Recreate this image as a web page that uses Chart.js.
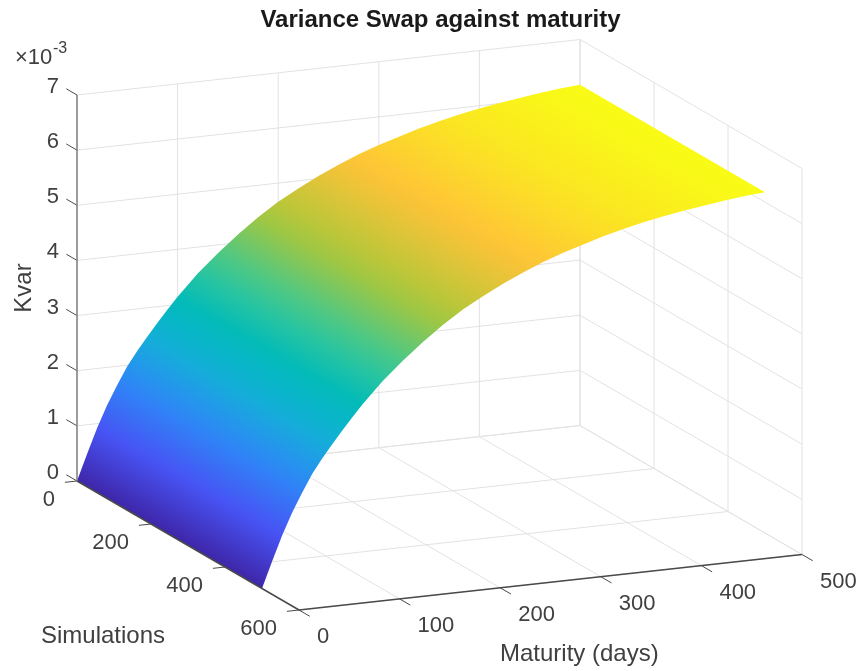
<!DOCTYPE html>
<html>
<head>
<meta charset="utf-8">
<title>Variance Swap against maturity</title>
<script src="https://cdn.jsdelivr.net/npm/chart.js@4"></script>
<style>
  html, body { margin: 0; padding: 0; background: #fff; }
  canvas { display: block; }
</style>
</head>
<body>
<canvas id="grafica" width="861" height="671"></canvas>
<script>
// Values
const maturityDays = [0, 10, 20, 30, 40, 50, 60, 70, 80, 90, 100, 120, 140, 160, 180, 200, 220, 240, 260, 280, 300, 320, 340, 360, 380, 400, 420, 440, 460, 480, 500];
const kvarValues = [0, 0.47, 0.92, 1.32, 1.66, 1.98, 2.24, 2.48, 2.71, 2.93, 3.14, 3.52, 3.85, 4.15, 4.42, 4.66, 4.86, 5.05, 5.21, 5.36, 5.49, 5.6, 5.71, 5.8, 5.88, 5.95, 6.01, 6.06, 6.11, 6.15, 6.18];
const simulationRange = [0, 500];

const maturityTicks = [0, 100, 200, 300, 400, 500];
const simulationTicks = [0, 200, 400, 600];
const kvarTicks = [0, 1, 2, 3, 4, 5, 6, 7];

// parula colormap: position, r, g, b
const parula = [
  [0, 62, 38, 168],
  [0.143, 72, 82, 244],
  [0.286, 46, 135, 247],
  [0.41, 18, 177, 214],
  [0.5, 0, 186, 186],
  [0.6, 55, 200, 151],
  [0.73, 171, 199, 57],
  [0.857, 254, 195, 56],
  [1, 249, 251, 21],
];

// Layout of the chart inside the canvas
const TITLE_HEIGHT = 34.8;
const LEFT_PAD = 20;

// Box view: where (days, sims, kvar) lands in the plot
const ORIGIN = [77, 481];
const PER_DAY = [503 / 500, -55.5 / 500];
const PER_SIM = [222 / 600, 129 / 600];
const PER_KVAR = -386 / 7;

function proyectar(t, s, z) {
  return {
    x: ORIGIN[0] + t * PER_DAY[0] + s * PER_SIM[0],
    y: ORIGIN[1] + t * PER_DAY[1] + s * PER_SIM[1] + z * PER_KVAR,
  };
}

const T_MAX = 500, S_MAX = 600, Z_MAX = 7;
const datasets = [];

function linea(a, b, color, width, order) {
  datasets.push({
    data: [a, b],
    showLine: true,
    borderColor: color,
    borderWidth: width,
    pointRadius: 0,
    clip: false,
    order: order,
  });
}

// Grid on the floor and the two walls
const GRID = "#e2e2e4";
maturityTicks.forEach((t) => {
  linea(proyectar(t, 0, 0), proyectar(t, S_MAX, 0), GRID, 1, 2);
  linea(proyectar(t, 0, 0), proyectar(t, 0, Z_MAX), GRID, 1, 2);
});
simulationTicks.forEach((s) => {
  linea(proyectar(0, s, 0), proyectar(T_MAX, s, 0), GRID, 1, 2);
  linea(proyectar(T_MAX, s, 0), proyectar(T_MAX, s, Z_MAX), GRID, 1, 2);
});
kvarTicks.forEach((z) => {
  linea(proyectar(0, 0, z), proyectar(T_MAX, 0, z), GRID, 1, 2);
  linea(proyectar(T_MAX, 0, z), proyectar(T_MAX, S_MAX, z), GRID, 1, 2);
});

// Surface outline: one edge forward, the other one back
const bordeA = maturityDays.map((t, i) => proyectar(t, simulationRange[0], kvarValues[i]));
const bordeB = maturityDays.map((t, i) => proyectar(t, simulationRange[1], kvarValues[i]));
datasets.push({
  surface: true,
  data: bordeA.concat(bordeB.slice().reverse()),
  showLine: false,
  pointRadius: 0,
  clip: false,
  order: 1,
});

// Axis lines and ticks
const AXIS = "#4a4a4a";
linea(proyectar(0, 0, 0), proyectar(0, 0, Z_MAX), "#808080", 1.5, 0);
linea(proyectar(0, 0, 0), proyectar(0, S_MAX, 0), AXIS, 1.5, 0);
linea(proyectar(0, S_MAX, 0), proyectar(T_MAX, S_MAX, 0), AXIS, 1.5, 0);
kvarTicks.forEach((z) => linea(proyectar(0, 0, z), proyectar(0, -29, z), AXIS, 1, 0));
simulationTicks.forEach((s) => linea(proyectar(0, s, 0), proyectar(-12, s, 0), AXIS, 1, 0));
maturityTicks.forEach((t) => linea(proyectar(t, S_MAX, 0), proyectar(t, S_MAX + 29, 0), AXIS, 1, 0));

function colorDe(valor) {
  for (let i = 1; i < parula.length; i++) {
    if (valor <= parula[i][0]) {
      const a = parula[i - 1], b = parula[i];
      const f = (valor - a[0]) / (b[0] - a[0]);
      return `rgb(${a[1] + f * (b[1] - a[1])},${a[2] + f * (b[2] - a[2])},${a[3] + f * (b[3] - a[3])})`;
    }
  }
  return "rgb(249,251,21)";
}

// Fills the surface from the points the scales already placed
const superficie = {
  id: "superficie",
  afterDatasetDraw(chart, args) {
    const ds = chart.data.datasets[args.index];
    if (!ds.surface) return;
    const pts = args.meta.data;
    const n = maturityDays.length;
    const ctx = chart.ctx;

    // Colour only changes across the simulations direction
    const p0 = pts[0];
    const sx = pts[2 * n - 1].x - p0.x, sy = pts[2 * n - 1].y - p0.y;
    const len = Math.hypot(sx, sy);
    const nx = -sy / len, ny = sx / len;
    const dist = (p) => (p.x - p0.x) * nx + (p.y - p0.y) * ny;
    const total = dist(pts[n - 1]);
    const grad = ctx.createLinearGradient(p0.x, p0.y, p0.x + nx * total, p0.y + ny * total);
    const zMax = Math.max(...kvarValues);
    maturityDays.forEach((t, i) => {
      grad.addColorStop(Math.min(1, dist(pts[i]) / total), colorDe(kvarValues[i] / zMax));
    });

    ctx.save();
    ctx.beginPath();
    pts.forEach((p, i) => (i ? ctx.lineTo(p.x, p.y) : ctx.moveTo(p.x, p.y)));
    ctx.closePath();
    ctx.fillStyle = grad;
    ctx.fill();
    ctx.restore();
  },
};

// Tick labels and axis names, placed through the same scales
const textos = {
  id: "textos",
  afterDraw(chart) {
    const ctx = chart.ctx;
    const px = (p) => ({ x: chart.scales.x.getPixelForValue(p.x), y: chart.scales.y.getPixelForValue(p.y) });
    const escribir = (txt, x, y, align, size) => {
      ctx.font = `${size}px "Liberation Sans"`;
      ctx.textAlign = align;
      ctx.fillText(txt, x, y);
    };

    ctx.save();
    ctx.fillStyle = "#404040";
    ctx.textBaseline = "middle";

    kvarTicks.forEach((z) => {
      const p = px(proyectar(0, 0, z));
      escribir(String(z), p.x - 18, p.y - 8, "right", 22);
    });
    simulationTicks.forEach((s) => {
      const p = px(proyectar(0, s, 0));
      escribir(String(s), p.x - 22, p.y + 19, "right", 22);
    });
    maturityTicks.forEach((t) => {
      const p = px(proyectar(t, S_MAX, 0));
      escribir(String(t), p.x + 18, p.y + 27, "left", 22);
    });

    escribir("×10", 15, 58, "left", 22);
    escribir("-3", 53, 49, "left", 16);
    escribir("Simulations", 41, 636, "left", 24);
    escribir("Maturity (days)", 500, 654, "left", 24);

    ctx.translate(24, 288);
    ctx.rotate(-Math.PI / 2);
    escribir("Kvar", 0, 0, "center", 24);
    ctx.restore();
  },
};

new Chart(document.getElementById("grafica"), {
  type: "scatter",
  data: { datasets: datasets },
  options: {
    responsive: false,
    animation: false,
    layout: { padding: { left: LEFT_PAD, right: 0, top: 0, bottom: 0 } },
    scales: {
      x: { type: "linear", display: false, min: LEFT_PAD, max: 861 },
      y: { type: "linear", display: false, min: TITLE_HEIGHT, max: 671, reverse: true },
    },
    plugins: {
      legend: { display: false },
      tooltip: { enabled: false },
      title: {
        display: true,
        text: "Variance Swap against maturity",
        color: "#1a1a1a",
        font: { family: "Liberation Sans", size: 24, weight: "bold", lineHeight: 1.2 },
        padding: { top: 6, bottom: 0 },
      },
    },
  },
  plugins: [superficie, textos],
});
</script>
</body>
</html>
